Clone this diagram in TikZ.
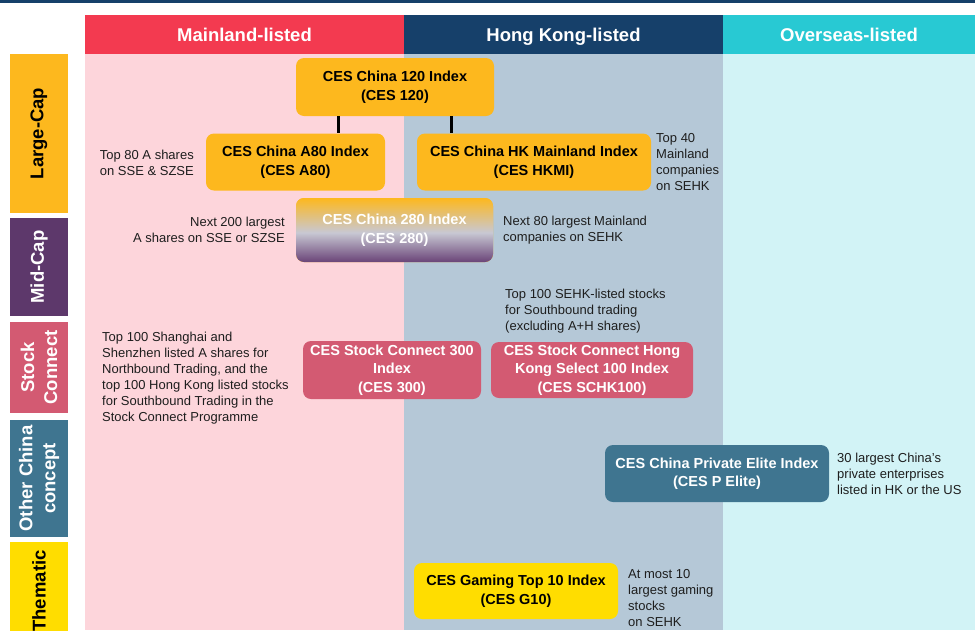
\documentclass[tikz,border=0pt]{standalone}
\usepackage{fontspec}
\setmainfont{Liberation Sans}
\usepackage{xcolor}
\usepackage{tikz}
\usetikzlibrary{arrows}

\definecolor{mlred}{HTML}{F33A50}
\definecolor{hknavy}{HTML}{16406A}
\definecolor{oscyan}{HTML}{28C9D3}
\definecolor{mlpink}{HTML}{FDD5DB}
\definecolor{hkgrey}{HTML}{B5C8D7}
\definecolor{oslight}{HTML}{D2F3F6}
\definecolor{capgold}{HTML}{FDB81E}
\definecolor{midgrey}{HTML}{C8C8D3}
\definecolor{midpurple}{HTML}{5D386B}
\definecolor{lowpurple}{HTML}{6A4478}
\definecolor{scrose}{HTML}{D35A72}
\definecolor{octeal}{HTML}{3F7590}
\definecolor{themyellow}{HTML}{FFDD00}
\definecolor{notegrey}{HTML}{1E1E1E}

\pgfdeclareverticalshading{midcapfade}{100bp}{color(0bp)=(lowpurple); color(25bp)=(lowpurple); color(48bp)=(midgrey); color(75bp)=(capgold); color(100bp)=(capgold)}

\tikzset{
	header/.style={fill=#1, text=white, font=\fontsize{18.5}{22}\selectfont\bfseries, minimum width=319pt, minimum height=39pt, inner sep=0pt, text height=13.5pt, text depth=0.5pt},
	catbar/.style={fill=#1, font=\fontsize{18.5}{23}\selectfont\bfseries, align=center, rotate=90, minimum height=58pt, inner sep=0pt},
	index/.style={fill=#1, rounded corners=8pt, font=\fontsize{14.5}{18.5}\selectfont\bfseries, align=center, inner sep=0pt},
	note/.style={text=notegrey, font=\fontsize{13}{16}\selectfont, inner sep=0pt},
	link/.style={draw=black, line width=3pt}
}

\begin{document}
\begin{tikzpicture}[x=1pt, y=-1pt]

	\useasboundingbox (0, 0) rectangle (975, 630);
	\fill[white] (0, 0) rectangle (975, 630);
	\fill[hknavy] (0, 0) rectangle (975, 3);

	\fill[mlpink] (85, 54) rectangle (404, 630);
	\fill[hkgrey] (404, 54) rectangle (723, 630);
	\fill[oslight] (723, 54) rectangle (975, 630);

	\node[header=mlred] (Mainland) at (244.5, 34.5) {Mainland-listed};
	\node[header=hknavy] (HongKong) at (563.5, 34.5) {Hong Kong-listed};
	\node[header=oscyan, minimum width=252pt] (Overseas) at (849, 34.5) {Overseas-listed};

	\node[catbar=capgold, text=black, minimum width=159pt] (LargeCap) at (39, 133.5) {Large-Cap};
	\node[catbar=midpurple, text=white, minimum width=98pt] (MidCap) at (39, 267) {Mid-Cap};
	\node[catbar=scrose, text=white, minimum width=91pt] (StockConnect) at (39, 367.5) {Stock\\Connect};
	\node[catbar=octeal, text=white, minimum width=117pt] (OtherChina) at (39, 478.5) {Other China\\concept};
	\node[catbar=themyellow, text=black, minimum width=98pt] (Thematic) at (39, 591) {Thematic};

	\node[index=capgold, minimum width=198pt, minimum height=58pt] (China120) at (395, 87) {CES China 120 Index\\(CES 120)};
	\node[index=capgold, minimum width=179pt, minimum height=57pt] (ChinaA80) at (295.5, 162) {CES China A80 Index\\(CES A80)};
	\node[index=capgold, minimum width=234pt, minimum height=57pt] (HKMI) at (534, 162) {CES China HK Mainland Index\\(CES HKMI)};
	\node[index=capgold, shading=midcapfade, text=white, minimum width=197pt, minimum height=64pt] (China280) at (394.5, 230) {CES China 280 Index\\(CES 280)};
	\node[index=scrose, text=white, minimum width=178pt, minimum height=58pt] (SC300) at (392, 370) {CES Stock Connect 300\\Index\\(CES 300)};
	\node[index=scrose, text=white, minimum width=202pt, minimum height=56pt] (SCHK100) at (592, 370) {CES Stock Connect Hong\\Kong Select 100 Index\\(CES SCHK100)};
	\node[index=octeal, text=white, minimum width=224pt, minimum height=57pt] (PElite) at (717, 473.5) {CES China Private Elite Index\\(CES P Elite)};
	\node[index=themyellow, minimum width=204pt, minimum height=56pt] (G10) at (516, 591) {CES Gaming Top 10 Index\\(CES G10)};

	\draw[link] ([xshift=-57pt]China120.south) -- ([xshift=-57pt]China120.south |- ChinaA80.north);
	\draw[link] ([xshift=56pt]China120.south) -- ([xshift=56pt]China120.south |- HKMI.north);

	\node[note, anchor=east, align=right] (NoteA80) at (194, 163) {Top 80 A shares\\on SSE \& SZSE};
	\node[note, anchor=east, align=right] (NoteMid) at (285, 230) {Next 200 largest\\A shares on SSE or SZSE};
	\node[note, anchor=west, align=left] (NoteHKMI) at (656, 162) {Top 40\\Mainland\\companies\\on SEHK};
	\node[note, anchor=west, align=left] (NoteHKMid) at (503, 230) {Next 80 largest Mainland\\companies on SEHK};
	\node[note, anchor=west, align=left] (NoteSCHK) at (505, 311) {Top 100 SEHK-listed stocks\\for Southbound trading\\(excluding A+H shares)};
	\node[note, anchor=west, align=left] (NoteSC) at (102, 378) {Top 100 Shanghai and\\Shenzhen listed A shares for\\Northbound Trading, and the\\top 100 Hong Kong listed stocks\\for Southbound Trading in the\\Stock Connect Programme};
	\node[note, anchor=west, align=left] (NotePElite) at (837, 474) {30 largest China's\\private enterprises\\listed in HK or the US};
	\node[note, anchor=west, align=left] (NoteG10) at (628, 598) {At most 10\\largest gaming\\stocks\\on SEHK};

\end{tikzpicture}
\end{document}
